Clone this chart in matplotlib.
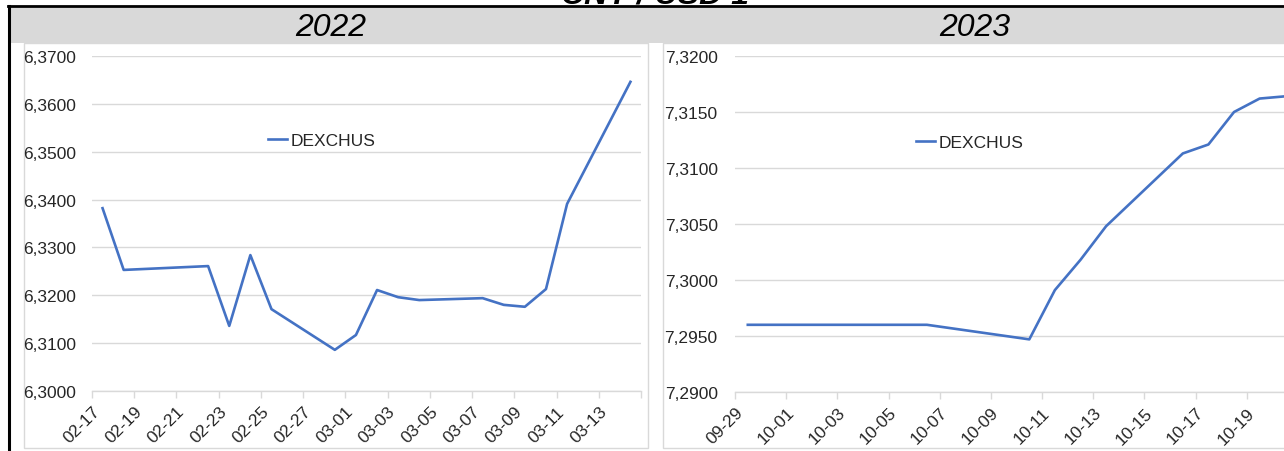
import pandas as pd
import matplotlib
matplotlib.use("Agg")
import matplotlib.pyplot as plt
from matplotlib.patches import Rectangle
from matplotlib.lines import Line2D
from matplotlib.ticker import FuncFormatter

# DEXCHUS, CNY per USD
dates_2022 = ["2022-02-17", "2022-02-18", "2022-02-22", "2022-02-23", "2022-02-24",
              "2022-02-25", "2022-02-28", "2022-03-01", "2022-03-02", "2022-03-03",
              "2022-03-04", "2022-03-07", "2022-03-08", "2022-03-09", "2022-03-10",
              "2022-03-11", "2022-03-14"]
values_2022 = [6.3382, 6.3253, 6.3261, 6.3136, 6.3284, 6.3171, 6.3086, 6.3117, 6.3211,
               6.3196, 6.3190, 6.3194, 6.3180, 6.3176, 6.3213, 6.3391, 6.3646]

dates_2023 = ["2023-09-29", "2023-10-06", "2023-10-10", "2023-10-11", "2023-10-12",
              "2023-10-13", "2023-10-16", "2023-10-17", "2023-10-18", "2023-10-19",
              "2023-10-20"]
values_2023 = [7.2960, 7.2960, 7.2947, 7.2991, 7.3018, 7.3048, 7.3113, 7.3121, 7.3150,
               7.3162, 7.3164]

title = "CNY / USD 1"
series_name = "DEXCHUS"

W, H = 1284, 452
BLUE = "#4472c4"
GRID = "#d9d9d9"
TXT = "#262626"

plt.rcParams["font.family"] = ["Liberation Sans", "DejaVu Sans"]

fig = plt.figure(figsize=(W / 100, H / 100), dpi=100)


def fx(x):
    return x / W


def fy(y):
    return 1 - y / H


def rect(x0, y0, x1, y1, **kw):
    fig.add_artist(Rectangle((fx(x0), fy(y1)), fx(x1) - fx(x0), fy(y0) - fy(y1),
                             transform=fig.transFigure, zorder=-5, **kw))


# sheet frame: grey header band, black borders
rect(10, 9, W + 5, 44, facecolor="#d9d9d9", edgecolor="none")
rect(24, 44, 648, 449, facecolor="white", edgecolor=GRID, lw=1)
rect(663, 44, W + 20, 449, facecolor="white", edgecolor=GRID, lw=1)
fig.add_artist(Line2D([fx(8), fx(W)], [fy(7), fy(7)], color="black", lw=2,
                      transform=fig.transFigure))
fig.add_artist(Line2D([fx(9), fx(9)], [fy(7), fy(H + 5)], color="black", lw=2.2,
                      transform=fig.transFigure))

fig.text(fx(655), fy(4), title, ha="center", va="baseline", fontsize=23,
         fontweight="bold", style="italic", color="black")

fig.text(fx(331), fy(28), "2022", ha="center", va="center", fontsize=23,
         style="italic", color="black")
fig.text(fx(975), fy(28), "2023", ha="center", va="center", fontsize=23,
         style="italic", color="black")


def panel(rect_px, dates, values, ylim, ystep, xstart, xend, legend_x, pad):
    x0, y0, x1, y1 = rect_px
    ax = fig.add_axes([fx(x0), fy(y1), fx(x1) - fx(x0), fy(y0) - fy(y1)])
    d = pd.to_datetime(dates) + pd.Timedelta(hours=12)
    ax.plot(d, values, color=BLUE, lw=1.9, label=series_name, solid_joinstyle="round")

    start, end = pd.Timestamp(xstart), pd.Timestamp(xend)
    ax.set_xlim(start, end)
    ticks = pd.date_range(start, end, freq="2D")
    ax.set_xticks(ticks)
    ax.set_xticklabels([t.strftime("%m-%d") if t < end else "" for t in ticks],
                       rotation=45, ha="right", va="top", rotation_mode="anchor",
                       fontsize=12.5, color=TXT)

    lo, hi = ylim
    n = int(round((hi - lo) / ystep))
    ax.set_ylim(lo, hi)
    ax.set_yticks([lo + i * ystep for i in range(n + 1)])
    ax.yaxis.set_major_formatter(FuncFormatter(lambda v, p: f"{v:.4f}".replace(".", ",")))
    ax.tick_params(axis="y", length=0, pad=pad, labelsize=12.5, labelcolor=TXT)
    ax.tick_params(axis="x", length=5, color=GRID, width=1, pad=4)
    ax.grid(axis="y", color=GRID, lw=1)
    ax.set_axisbelow(True)
    for s in ["top", "right", "left"]:
        ax.spines[s].set_visible(False)
    ax.spines["bottom"].set_color(GRID)
    ax.spines["bottom"].set_linewidth(1)
    ax.patch.set_alpha(0)

    leg = ax.legend(loc="center left", bbox_to_anchor=legend_x, frameon=False,
                    handlelength=1.1, handletextpad=0.2, borderaxespad=0,
                    fontsize=12.5)
    for t in leg.get_texts():
        t.set_color(TXT)
    return ax


panel((92, 57, 641, 392), dates_2022, values_2022, (6.30, 6.37), 0.01,
      "2022-02-17", "2022-03-15", (0.308, 0.749), 11.5)
panel((735, 57, 1298, 393), dates_2023, values_2023, (7.29, 7.32), 0.005,
      "2023-09-29", "2023-10-21", (0.309, 0.744), 12.5)

fig.savefig("out.png", dpi=100)
